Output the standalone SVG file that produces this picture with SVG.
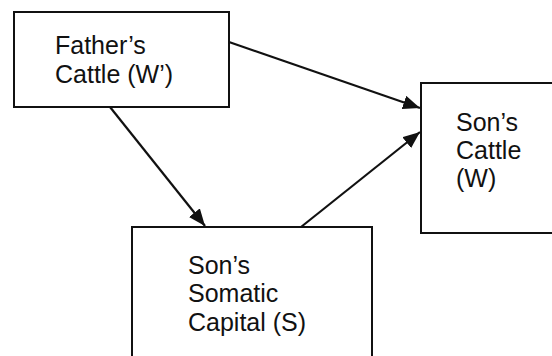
<svg xmlns="http://www.w3.org/2000/svg" width="552" height="356" viewBox="0 0 552 356">
<defs>
<style>
.box{fill:#fff;stroke:#111;stroke-width:2}
.t{font-family:"Liberation Sans",Arial,sans-serif;font-size:25px;fill:#111}
.c{stroke:#111;stroke-width:2.2;fill:none}
</style>
<marker id="ah" markerUnits="userSpaceOnUse" markerWidth="18" markerHeight="14" refX="17" refY="7" orient="auto">
<path d="M0,0 L17,7 L0,14 Z" fill="#111"/>
</marker>
</defs>
<rect width="552" height="356" fill="#fff"/>
<g id="father">
<rect class="box" x="14" y="12" width="215" height="95"/>
<text class="t" x="55" y="54">Father’s</text>
<text class="t" x="55" y="83">Cattle (W’)</text>
</g>
<g id="soncattle">
<rect class="box" x="421" y="83" width="140" height="150"/>
<text class="t" x="456" y="131">Son’s</text>
<text class="t" x="456" y="159">Cattle</text>
<text class="t" x="456" y="187">(W)</text>
</g>
<g id="somatic">
<rect class="box" x="132" y="227" width="240" height="140"/>
<text class="t" x="188" y="274">Son’s</text>
<text class="t" x="188" y="302">Somatic</text>
<text class="t" x="188" y="331">Capital (S)</text>
</g>
<g id="connectors">
<line class="c" x1="229" y1="42" x2="420" y2="108" marker-end="url(#ah)"/>
<line class="c" x1="110" y1="107" x2="205" y2="226" marker-end="url(#ah)"/>
<line class="c" x1="301" y1="227" x2="420" y2="132" marker-end="url(#ah)"/>
</g>
</svg>
